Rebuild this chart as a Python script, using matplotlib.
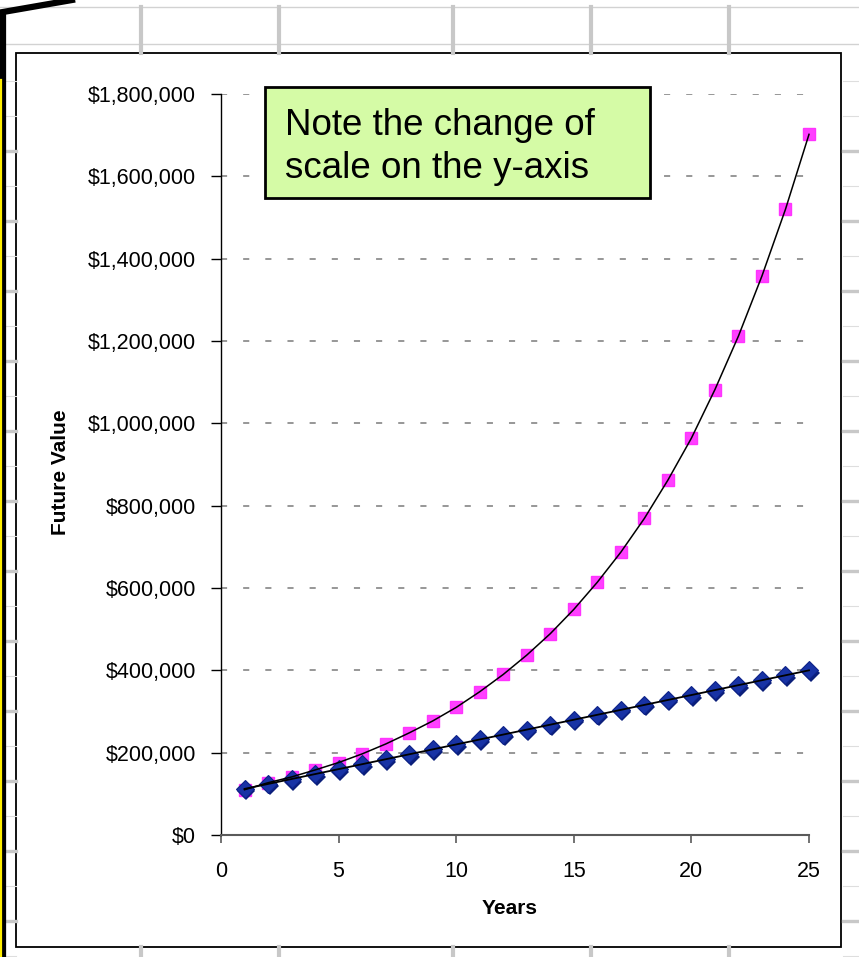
import numpy as np
import matplotlib
matplotlib.use("Agg")
import matplotlib.pyplot as plt
from matplotlib.patches import Rectangle
from matplotlib.ticker import FuncFormatter

plt.rcParams['font.family'] = ['Liberation Sans', 'DejaVu Sans']

years = list(range(1, 26))
# compound growth (magenta squares)
compound = [110000, 127000, 141000, 158000, 176000, 197000, 221000, 248000,
            277000, 310000, 348000, 390000, 437000, 489000, 548000, 614000,
            687000, 769000, 862000, 964000, 1082000, 1212000, 1358000,
            1520000, 1702000]
# simple growth (blue diamonds)
simple = [112000, 124000, 136000, 148000, 160000, 172000, 184000, 196000,
          208000, 220000, 232000, 244000, 256000, 268000, 280000, 292000,
          304000, 316000, 328000, 340000, 352000, 364000, 376000, 388000,
          400000]
y_ticks = [0, 200000, 400000, 600000, 800000, 1000000, 1200000, 1400000,
           1600000, 1800000]
x_ticks = [0, 5, 10, 15, 20, 25]
note_lines = ["Note the change of", "scale on the y-axis"]

W, H = 859, 957
fig = plt.figure(figsize=(W / 100, H / 100), dpi=100)

# ---- worksheet background, in pixel coordinates ----
bg = fig.add_axes([0, 0, 1, 1], zorder=0)
bg.set_xlim(0, W)
bg.set_ylim(H, 0)
bg.axis('off')

for yy in (7, 44):
    bg.plot([0, W], [yy, yy], color='#d2d2d2', lw=1.0)
rows = np.arange(81, H, 35.0)
for k, yy in enumerate(rows):
    thick = (k % 2 == 0) and yy > 130
    col = '#c8c8c8' if thick else '#dedede'
    lw = 2.4 if thick else 0.8
    bg.plot([6, 16], [yy, yy], color=col, lw=lw)
    bg.plot([843, W], [yy, yy], color=col, lw=lw)
for xx in (141, 279, 453, 591, 729):
    bg.plot([xx, xx], [7, 53], color='#c8c8c8', lw=3.0)
    bg.plot([xx, xx], [947, H], color='#c8c8c8', lw=3.0)

# chart frame
bg.add_patch(Rectangle((16, 53), 825, 894, facecolor='white',
                       edgecolor='black', lw=1.3))

# thick outline on the left edge
bg.plot([3, 3, 72], [H, 12, 0], color='black', lw=4.5, solid_joinstyle='miter')
bg.plot([0.8, 0.8], [80, H], color='#ffee00', lw=1.6)

# ---- main chart ----
ax = fig.add_axes([221 / W, 1 - 835 / H, (809 - 221) / W, (835 - 94) / H],
                  zorder=1)
ax.set_facecolor('none')

ax.plot(years, compound, linestyle='none', marker='s', markersize=8,
        color='#ff40ff', markeredgecolor='#ff33ff', zorder=3, clip_on=False)
# simple-growth diamonds with a darker shadow underneath
ax.plot(years, simple, linestyle='none', marker='D', markersize=9,
        color='#0b1f7a', markeredgewidth=0, zorder=3, clip_on=False,
        transform=ax.transData + matplotlib.transforms.ScaledTranslation(
            1.5 / 100, -2.5 / 100, fig.dpi_scale_trans))
ax.plot(years, simple, linestyle='none', marker='D', markersize=9,
        color='#1833a5', markeredgecolor='#0d2288', markeredgewidth=0.8,
        zorder=3, clip_on=False)

ax.plot(years, compound, color='black', lw=1.1, zorder=4, clip_on=False)
ax.plot([years[0], years[-1]], [simple[0], simple[-1]], color='black',
        lw=1.3, zorder=4, clip_on=False)

ax.set_xlim(0, 25)
ax.set_ylim(0, 1800000)
ax.set_xticks(x_ticks)
ax.set_yticks(y_ticks)
ax.yaxis.set_major_formatter(FuncFormatter(lambda v, p: '${:,.0f}'.format(v)))

for yv in y_ticks[1:]:
    ax.axhline(yv, color='#7a7a7a', lw=1.1, linestyle=(0, (4.0, 10.5)),
               zorder=1)

ax.spines['top'].set_visible(False)
ax.spines['right'].set_visible(False)
ax.spines['left'].set_color('black')
ax.spines['left'].set_linewidth(1.0)
ax.spines['bottom'].set_color('#5a5a5a')
ax.spines['bottom'].set_linewidth(1.5)

ax.tick_params(axis='y', direction='out', length=7, width=1.0,
               color='black', pad=11, labelsize=15.5)
ax.tick_params(axis='x', direction='out', length=6, width=1.2,
               color='#5a5a5a', pad=13, labelsize=15.5)

ax.set_xlabel('Years', fontsize=15, fontweight='bold')
ax.xaxis.set_label_coords((510 - 221) / (809 - 221), -(909 - 835) / (835 - 94))
ax.set_ylabel('Future Value', fontsize=15, fontweight='bold')
ax.yaxis.set_label_coords((60 - 221) / (809 - 221), (835 - 472) / (835 - 94))
ax.xaxis.label.set_va('center')
ax.yaxis.label.set_va('center')

# ---- note box above everything ----
top = fig.add_axes([0, 0, 1, 1], zorder=2)
top.set_xlim(0, W)
top.set_ylim(H, 0)
top.axis('off')
top.patch.set_alpha(0)
top.add_patch(Rectangle((265, 87), 385, 111, facecolor='#d5fba6',
                        edgecolor='black', lw=2.0))
top.text(285, 135, note_lines[0], fontsize=26.5, va='baseline', ha='left')
top.text(285, 178, note_lines[1], fontsize=26.5, va='baseline', ha='left')

fig.savefig('out.png', dpi=100)
